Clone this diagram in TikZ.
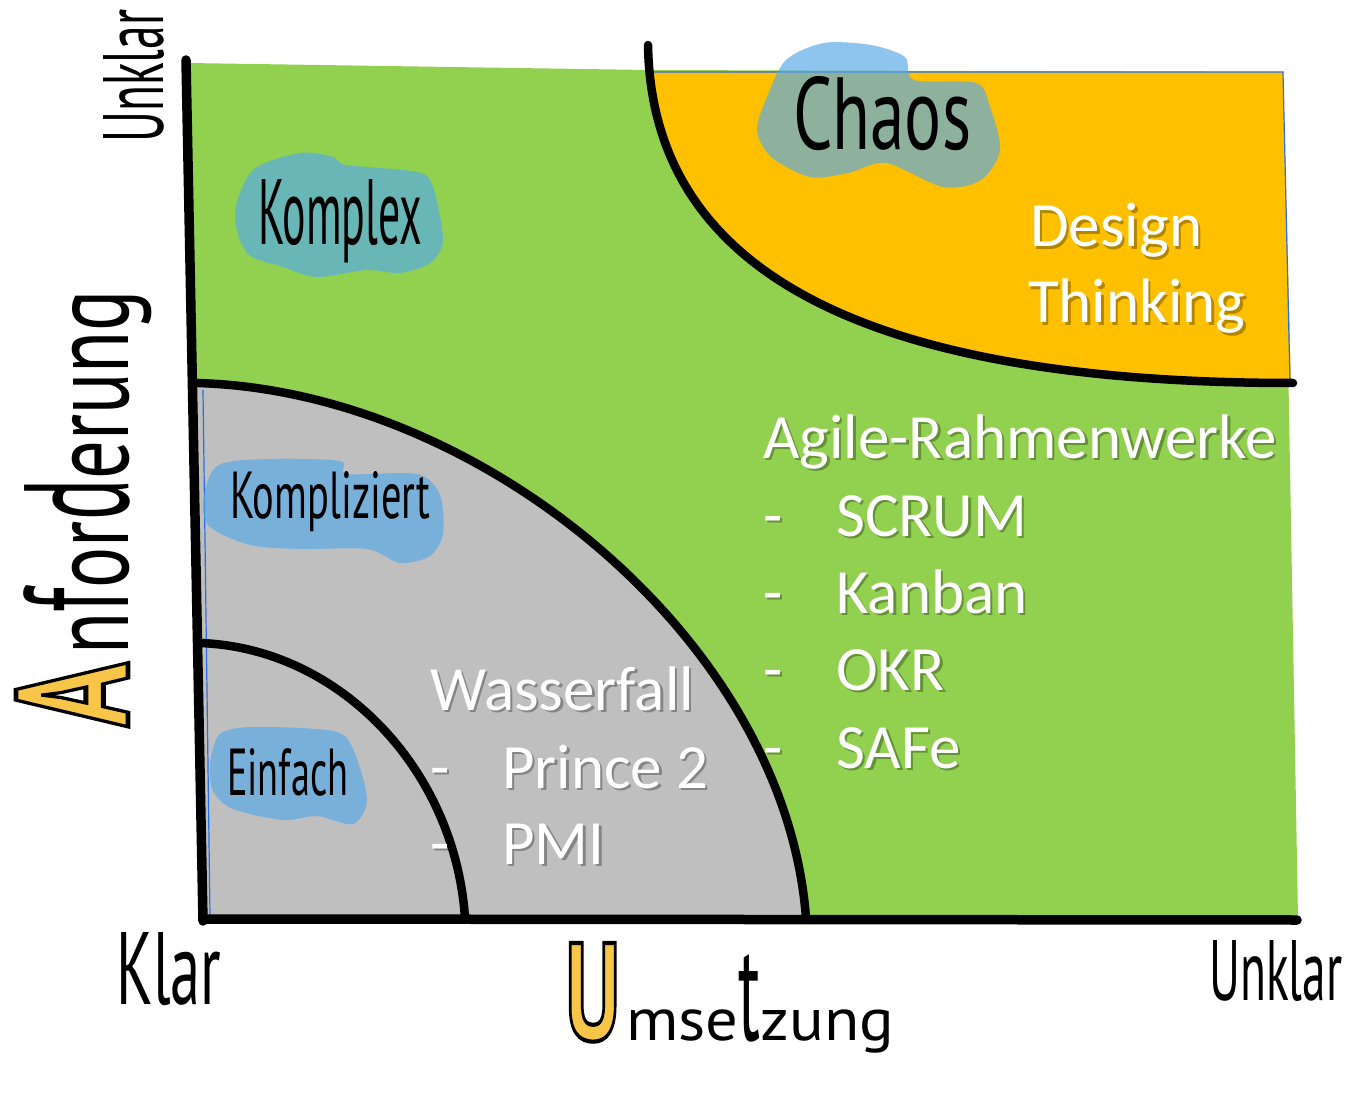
\documentclass[tikz,border=0pt]{standalone}
\usepackage{fontspec}
\usepackage{graphicx}
\setmainfont{Carlito}
\newfontfamily\hand{PT Sans}
\definecolor{grn}{RGB}{146,208,80}
\definecolor{org}{RGB}{255,192,0}
\definecolor{gry}{RGB}{191,191,191}
\definecolor{blobc}{RGB}{87,170,231}
\definecolor{yel}{RGB}{247,197,72}
\definecolor{edgec}{RGB}{40,110,230}
% yellow letter with black outline (text render mode fill+stroke)
\newcommand\yl[1]{\textcolor{yel}{\special{pdf:code 2 Tr 0.3 w 0 0 0 RG}#1\special{pdf:code 0 Tr}}}
\newcommand\wline[4]{%
  \node[wsh] (#1s) at (#2+2.5,#3+2.5) {#4};
  \node[wt] (#1) at (#2,#3) {#4};}
\begin{document}
\begin{tikzpicture}[x=1pt,y=-1pt,
  axisline/.style={line width=9.5pt, line cap=round, black},
  bound/.style={line width=8.5pt, line cap=round, black},
  blobfill/.style={fill=blobc, fill opacity=0.68},
  thinedge/.style={draw=edgec, line width=1.2pt},
  hw/.style={anchor=base west, inner sep=0pt, text=black, font=\hand},
  wt/.style={anchor=base west, inner sep=0pt, text=white, font=\fontsize{63}{75}\selectfont},
  wsh/.style={wt, text=black, text opacity=0.3}]
\useasboundingbox (0,0) rectangle (1345,1094);
\fill[white] (0,0) rectangle (1345,1094);
% regions
\fill[grn] (188,63) -- (648,70) -- (1283,72) -- (1298,918) -- (205,918) -- cycle;
\fill[org] (648,45) .. controls (652,280) and (880,383) .. (1291,383) -- (1283,72) -- (648,72) -- cycle;
\fill[gry] (196,383) .. controls (480,390) and (785,640) .. (806,918) -- (205,918) -- cycle;
\draw[thinedge] (648,72) -- (1283,72) -- (1290,382);
\draw[thinedge] (203,390) -- (210,916);
% blobs
\fill[blobfill] plot[smooth cycle] coordinates {(235,213) (253,170) (300,153) (333,157) (347,165) (417,172) (433,187) (443,240) (430,263) (400,273) (367,270) (317,277) (283,267) (247,253)};
\fill[blobfill] plot[smooth cycle] coordinates {(203,502) (217,466) (267,459) (340,461) (347,474) (417,474) (440,495) (443,534) (430,556) (400,563) (367,549) (300,549) (250,545) (210,527)};
\fill[blobfill] plot[smooth cycle] coordinates {(210,763) (220,734) (253,727) (333,731) (353,749) (367,799) (353,824) (317,816) (283,820) (233,809) (213,791)};
\fill[blobfill] plot[smooth cycle] coordinates {(757,130) (767,97) (786,60) (824,43) (871,45) (905,57) (914,80) (976,83) (990,107) (1000,150) (981,180) (943,187) (886,163) (848,173) (810,177) (771,157)};
% boundaries and axes
\draw[bound] (648,45) .. controls (652,280) and (880,383) .. (1293,383);
\draw[bound] (196,383) .. controls (480,390) and (785,640) .. (806,918);
\draw[bound] (200,643) .. controls (340,648) and (455,770) .. (465,918);
\draw[axisline] (186,60) -- (203,921);
\draw[axisline] (203,919) -- (1297,920);
% handwritten labels
\node[hw] (komplex) at (258,245) {\resizebox{164pt}{65pt}{Komplex}};
\node[hw] (kompliziert) at (230,518) {\resizebox{200pt}{47pt}{Kompliziert}};
\node[hw] (einfach) at (227,795) {\resizebox{121pt}{47pt}{Einfach}};
\node[hw] (chaos) at (793,150) {\resizebox{178pt}{73pt}{Chaos}};
\node[hw] (klar) at (116,1004) {\resizebox{105pt}{72pt}{Klar}};
\node[hw] (unklarx) at (1209,1000) {\resizebox{133pt}{60pt}{Unklar}};
\node[hw, rotate=90] (unklary) at (163,143) {\resizebox{133pt}{60pt}{Unklar}};
\node[hw, rotate=90] (anf) at (128,727) {\resizebox{64pt}{112pt}{\bfseries\yl{A}}\hspace{8pt}\resizebox{365pt}{\height}{\fontsize{110}{110}\selectfont n\scalebox{1}[1.35]{f}or\scalebox{1}[1.35]{d}erung}};
\node[hw] (ums) at (565,1040) {\resizebox{55pt}{97pt}{\bfseries\yl{U}}\hspace{6pt}\resizebox{268pt}{\height}{\fontsize{60}{60}\selectfont mse\scalebox{1}[2.3]{t}zung}};
% white text
\wline{design}{1030}{247}{Design}
\wline{thinking}{1028}{323}{Thinking}
\wline{agile}{763}{458}{Agile-Rahmenwerke}
\wline{scrum}{763}{536}{\makebox[73pt][l]{-}SCRUM}
\wline{kanban}{763}{613}{\makebox[73pt][l]{-}Kanban}
\wline{okr}{763}{690}{\makebox[73pt][l]{-}OKR}
\wline{safe}{763}{768}{\makebox[73pt][l]{-}SAFe}
\wline{wasser}{430}{710}{Wasserfall}
\wline{prince}{430}{788}{\makebox[72pt][l]{-}Prince 2}
\wline{pmi}{430}{864}{\makebox[72pt][l]{-}PMI}
\end{tikzpicture}
\end{document}
